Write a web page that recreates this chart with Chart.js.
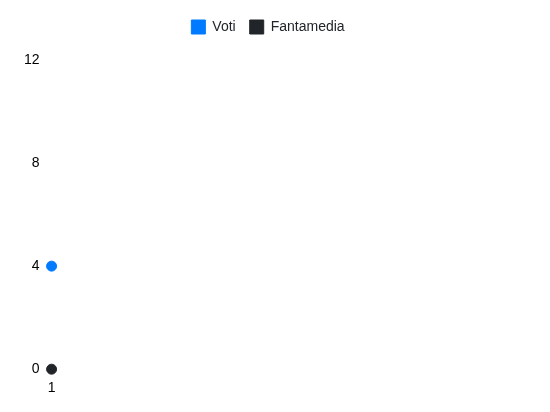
<!DOCTYPE html>
<html>
<head>
<meta charset="utf-8">
<script src="https://cdn.jsdelivr.net/npm/chart.js@4"></script>
<style>
  html, body { margin: 0; padding: 0; background: #fff; }
  #wrap { width: 550px; height: 412px; position: relative; }
</style>
</head>
<body>
<div id="wrap"><canvas id="votiChart"></canvas></div>
<script>
const giornate = ['1'];
const voti = [4];
const fantamedia = [0];
const yTicks = [0, 4, 8, 12];

Chart.defaults.font.family = '"Liberation Sans", Arial, sans-serif';
Chart.defaults.font.size = 14;

// a bit more room under the legend
const legendGap = {
  id: 'legendGap',
  beforeInit(chart) {
    const fit = chart.legend.fit;
    chart.legend.fit = function () {
      fit.bind(chart.legend)();
      this.height += 16;
    };
  },
};

const ctx = document.getElementById('votiChart').getContext('2d');
new Chart(ctx, {
  type: 'line',
  data: {
    labels: giornate,
    datasets: [
      {
        label: 'Voti',
        data: voti,
        borderColor: '#007bff',
        backgroundColor: '#007bff',
        pointRadius: 5,
        borderWidth: 1,
      },
      {
        label: 'Fantamedia',
        data: fantamedia,
        borderColor: '#212529',
        backgroundColor: '#212529',
        pointRadius: 5,
        borderWidth: 1,
      },
    ],
  },
  options: {
    responsive: true,
    maintainAspectRatio: false,
    animation: false,
    clip: false,
    layout: { padding: { top: 6, left: 20, right: 34, bottom: 12 } },
    plugins: {
      legend: {
        position: 'top',
        labels: { boxWidth: 14, boxHeight: 14, padding: 14, color: '#212529' },
      },
      tooltip: { enabled: false },
    },
    scales: {
      x: {
        grid: { display: false },
        border: { display: false },
        ticks: { color: '#000' },
      },
      y: {
        min: yTicks[0],
        max: yTicks[yTicks.length - 1],
        grid: { display: false },
        border: { display: false },
        afterBuildTicks: (axis) => { axis.ticks = yTicks.map((v) => ({ value: v })); },
        ticks: { color: '#000', padding: 4 },
      },
    },
  },
  plugins: [legendGap],
});
</script>
</body>
</html>
